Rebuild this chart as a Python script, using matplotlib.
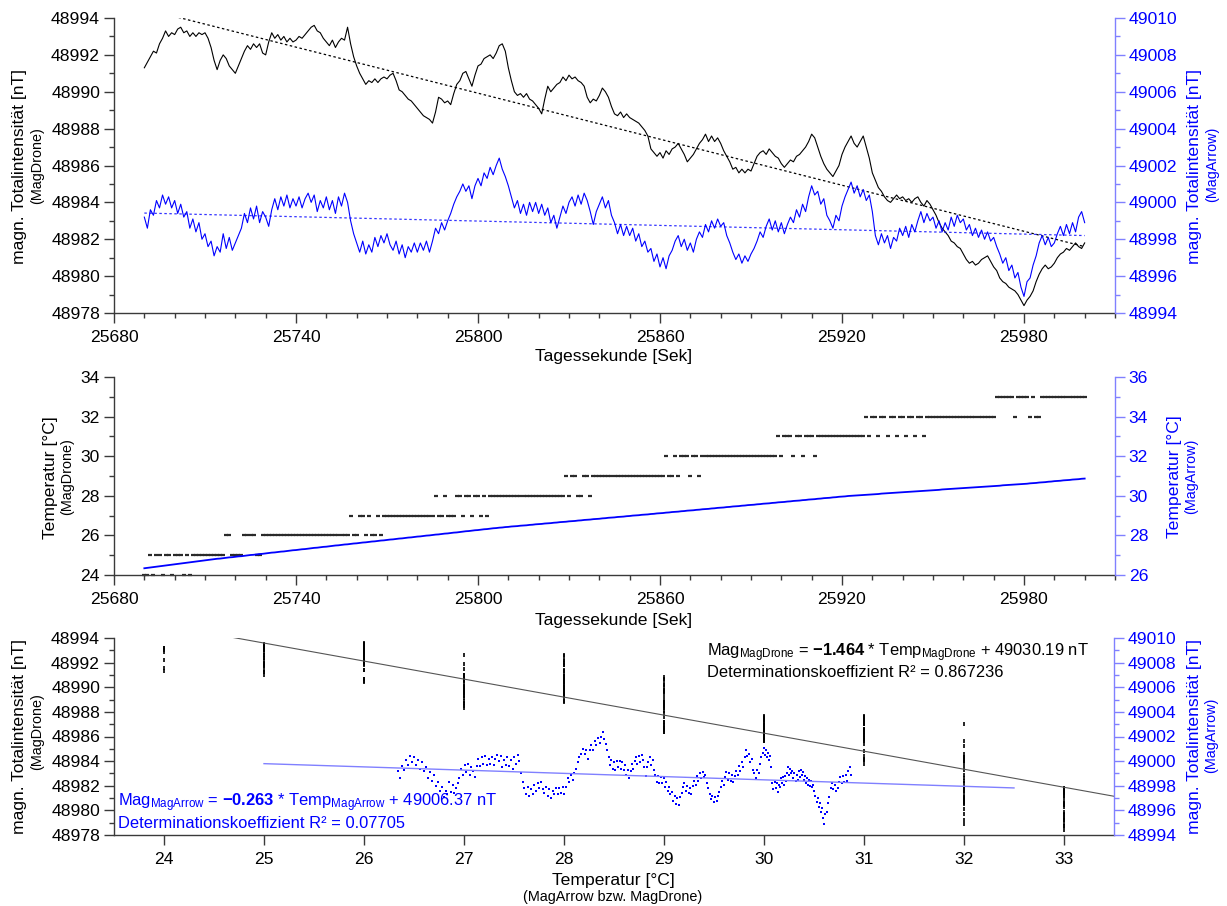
import numpy as np
import matplotlib
matplotlib.use("Agg")
import matplotlib.pyplot as plt
from matplotlib.ticker import MultipleLocator, FixedLocator

plt.rcParams['font.family'] = ['Liberation Sans', 'DejaVu Sans']
plt.rcParams['mathtext.fontset'] = 'custom'
plt.rcParams['mathtext.rm'] = 'Liberation Sans'
plt.rcParams['mathtext.bf'] = 'Liberation Sans:bold'
plt.rcParams['mathtext.it'] = 'Liberation Sans:italic'

# ---------------------------------------------------------------- data
first_second = 25690  # one sample per second

drone_mag = [
    48991.3, 48991.6, 48991.9, 48992.2, 48992.1, 48992.6, 48992.9, 48993.3, 48993.0, 48993.2,
    48993.1, 48993.4, 48993.5, 48993.2, 48993.3, 48993.0, 48993.2, 48993.0, 48993.2, 48993.1,
    48993.2, 48992.9, 48992.4, 48991.7, 48991.2, 48991.7, 48992.0, 48991.8, 48991.4, 48991.2,
    48991.0, 48991.4, 48991.8, 48992.2, 48992.5, 48992.3, 48992.6, 48992.4, 48992.6, 48992.1,
    48992.0, 48992.7, 48993.2, 48992.9, 48993.1, 48992.8, 48993.0, 48992.7, 48992.9, 48992.7,
    48992.8, 48993.0, 48992.9, 48993.1, 48993.3, 48993.5, 48993.6, 48993.3, 48993.2, 48992.9,
    48992.7, 48992.5, 48992.8, 48992.4, 48992.7, 48992.9, 48992.8, 48993.5, 48992.6, 48991.9,
    48991.4, 48991.0, 48990.7, 48990.4, 48990.6, 48990.5, 48990.7, 48990.5, 48990.7, 48990.8,
    48990.7, 48990.9, 48991.0, 48990.6, 48990.1, 48990.0, 48989.8, 48989.6, 48989.5, 48989.3,
    48989.1, 48988.9, 48988.7, 48988.6, 48988.5, 48988.3, 48988.9, 48989.7, 48989.6, 48989.4,
    48989.5, 48989.3, 48989.9, 48990.4, 48990.6, 48991.0, 48991.1, 48990.7, 48990.3, 48990.9,
    48991.4, 48991.5, 48991.8, 48991.9, 48992.0, 48991.8, 48992.1, 48992.5, 48992.6, 48992.2,
    48991.3, 48990.6, 48990.0, 48989.8, 48989.9, 48989.7, 48989.9, 48989.6, 48989.5, 48989.3,
    48989.1, 48988.8, 48989.6, 48990.3, 48990.0, 48990.2, 48990.4, 48990.5, 48990.8, 48990.6,
    48990.9, 48990.7, 48990.8, 48990.6, 48990.5, 48990.3, 48989.7, 48989.4, 48989.6, 48989.5,
    48989.8, 48990.2, 48990.0, 48989.7, 48989.2, 48988.8, 48988.7, 48988.9, 48988.6, 48988.8,
    48988.6, 48988.5, 48988.4, 48988.3, 48988.1, 48987.9, 48987.6, 48986.9, 48986.7, 48986.5,
    48986.7, 48986.4, 48986.8, 48986.6, 48986.9, 48987.0, 48987.2, 48986.9, 48986.6, 48986.2,
    48986.4, 48986.6, 48986.9, 48987.2, 48987.4, 48987.7, 48987.3, 48987.6, 48987.3, 48987.5,
    48987.2, 48986.8, 48986.5, 48986.2, 48985.8, 48985.9, 48985.6, 48985.8, 48985.6, 48985.8,
    48985.7, 48986.1, 48986.5, 48986.7, 48986.8, 48986.6, 48986.9, 48986.7, 48986.5, 48986.4,
    48986.1, 48985.9, 48986.1, 48986.3, 48986.2, 48986.5, 48986.6, 48986.8, 48987.0, 48987.3,
    48987.7, 48987.5, 48987.0, 48986.5, 48986.1, 48985.8, 48985.6, 48985.4, 48985.7, 48986.0,
    48986.6, 48987.0, 48987.3, 48987.6, 48987.2, 48987.0, 48987.3, 48987.6, 48987.0, 48986.4,
    48985.6, 48985.2, 48984.8, 48984.6, 48984.3, 48984.1, 48984.0, 48984.2, 48984.4, 48984.2,
    48984.3, 48984.1, 48984.2, 48984.0, 48984.2, 48984.3, 48984.0, 48983.8, 48984.1, 48983.9,
    48983.6, 48983.3, 48982.9, 48982.6, 48982.4, 48982.2, 48981.9, 48981.8, 48981.6, 48981.5,
    48981.2, 48980.9, 48980.7, 48980.8, 48980.6, 48980.7, 48980.9, 48981.0, 48981.1, 48980.8,
    48980.5, 48980.3, 48979.9, 48979.7, 48979.6, 48979.4, 48979.3, 48979.2, 48979.0, 48978.7,
    48978.4, 48978.7, 48978.9, 48979.2, 48979.7, 48980.1, 48980.4, 48980.6, 48980.4, 48980.5,
    48980.7, 48981.0, 48981.2, 48981.3, 48981.5, 48981.4, 48981.6, 48981.8, 48981.6, 48981.5,
    48981.8,
]

arrow_mag = [
    48999.2, 48998.6, 48999.6, 48999.3, 49000.1, 48999.7, 49000.4, 48999.9, 49000.3, 48999.7,
    49000.1, 48999.4, 48999.9, 48999.2, 48999.5, 48998.6, 48999.1, 48998.4, 48998.9, 48998.0,
    48998.3, 48997.6, 48997.9, 48997.1, 48997.6, 48997.3, 48998.3, 48997.5, 48998.1, 48997.4,
    48997.8, 48998.2, 48998.6, 48999.4, 48998.9, 48999.7, 48999.1, 48999.8, 48998.9, 48999.5,
    48999.2, 48998.7, 48999.6, 49000.2, 48999.6, 49000.3, 48999.8, 49000.4, 48999.7, 49000.2,
    48999.8, 49000.3, 48999.7, 49000.2, 49000.5, 49000.0, 49000.4, 48999.5, 49000.1, 48999.7,
    49000.3, 48999.6, 49000.1, 48999.4, 49000.3, 48999.8, 49000.5, 49000.0, 48999.0, 48998.3,
    48997.8, 48997.3, 48997.9, 48997.2, 48997.7, 48997.3, 48998.1, 48997.6, 48998.2, 48997.8,
    48998.3, 48997.7, 48997.4, 48997.9, 48997.2, 48997.7, 48997.0, 48997.6, 48997.3, 48997.8,
    48997.3, 48997.8, 48997.4, 48997.9, 48997.3, 48997.9, 48998.6, 48998.3, 48998.9, 48998.5,
    48999.0, 48999.4, 48999.9, 49000.3, 49000.6, 49001.0, 49000.6, 49000.9, 49000.2, 49000.9,
    49001.3, 49000.9, 49001.6, 49001.3, 49001.9, 49001.5, 49002.0, 49002.4, 49001.8, 49001.4,
    49000.9, 49000.3, 48999.7, 49000.1, 48999.4, 48999.9, 48999.3, 49000.0, 48999.5, 49000.0,
    48999.4, 48999.9, 48999.3, 48999.7, 48998.9, 48999.3, 48998.6, 48999.2, 48999.8, 48999.4,
    49000.0, 49000.3, 48999.8, 49000.4, 48999.9, 49000.5, 49000.1, 48999.5, 48998.8, 48999.5,
    48999.9, 49000.3, 48999.7, 49000.1, 48999.3, 48998.9, 48998.3, 48998.8, 48998.2, 48998.7,
    48998.2, 48998.6, 48997.9, 48998.3, 48997.6, 48997.9, 48997.3, 48997.5, 48996.8, 48997.2,
    48996.5, 48997.0, 48996.4, 48997.1, 48997.4, 48997.9, 48998.2, 48997.6, 48998.0, 48997.4,
    48997.8, 48997.3, 48998.0, 48998.4, 48998.1, 48998.8, 48998.4, 48999.0, 48998.6, 48999.1,
    48998.7, 48998.9, 48998.2, 48997.8, 48997.3, 48996.9, 48997.2, 48996.7, 48997.1, 48996.8,
    48997.2, 48997.5, 48997.9, 48998.4, 48998.1, 48998.7, 48999.1, 48998.5, 48999.0, 48998.4,
    48998.9, 48998.3, 48998.8, 48999.2, 48998.9, 48999.6, 48999.2, 48999.9, 48999.5, 49000.3,
    49000.9, 49000.4, 49000.6, 48999.9, 49000.2, 48999.3, 48999.0, 48998.6, 48999.3, 48999.0,
    48999.8, 49000.3, 49000.7, 49001.1, 49000.5, 49000.9, 49000.3, 49000.7, 49000.1, 49000.4,
    48999.5, 48998.2, 48997.7, 48998.3, 48997.8, 48998.2, 48997.5, 48998.1, 48997.9, 48998.6,
    48998.2, 48998.7, 48998.1, 48998.8, 48998.4, 48999.0, 48999.5, 48998.9, 48999.4, 48999.0,
    48999.2, 48998.6, 48999.0, 48998.4, 48998.9, 48998.5, 48999.2, 48998.7, 48999.3, 48998.9,
    48999.1, 48998.5, 48998.8, 48998.2, 48998.6, 48998.1, 48998.5, 48998.0, 48998.4, 48997.9,
    48998.1, 48997.6, 48997.2, 48996.7, 48997.0, 48996.3, 48996.6, 48995.9, 48996.2, 48995.4,
    48994.9, 48995.7, 48995.9, 48996.6, 48997.1, 48997.8, 48998.2, 48997.7, 48998.1, 48997.6,
    48997.8, 48998.3, 48998.7, 48998.2, 48998.8, 48998.3, 48998.9, 48998.4, 48999.2, 48999.5,
    48998.9,
]

drone_temp = [
    24, 24, 25, 24, 25, 25, 24, 25, 25, 24, 25, 25, 25, 24, 25, 24, 25, 25, 25, 25,
    25, 25, 25, 25, 25, 25, 25, 26, 26, 25, 25, 25, 25, 26, 26, 26, 26, 25, 25, 26,
    26, 26, 26, 26, 26, 26, 26, 26, 26, 26, 26, 26, 26, 26, 26, 26, 26, 26, 26, 26,
    26, 26, 26, 26, 26, 26, 26, 26, 27, 26, 26, 27, 27, 26, 27, 26, 26, 27, 26, 27,
    27, 27, 27, 27, 27, 27, 27, 27, 27, 27, 27, 27, 27, 27, 27, 27, 28, 27, 27, 28,
    27, 27, 27, 28, 28, 27, 28, 28, 27, 28, 28, 27, 28, 27, 28, 28, 28, 28, 28, 28,
    28, 28, 28, 28, 28, 28, 28, 28, 28, 28, 28, 28, 28, 28, 28, 28, 28, 28, 28, 29,
    28, 29, 29, 28, 28, 29, 29, 28, 29, 29, 29, 29, 29, 29, 29, 29, 29, 29, 29, 29,
    29, 29, 29, 29, 29, 29, 29, 29, 29, 29, 29, 29, 30, 29, 29, 30, 29, 30, 30, 30,
    29, 30, 30, 29, 30, 30, 30, 30, 30, 30, 30, 30, 30, 30, 30, 30, 30, 30, 30, 30,
    30, 30, 30, 30, 30, 30, 30, 30, 30, 31, 30, 31, 31, 31, 30, 31, 31, 30, 31, 31,
    31, 30, 31, 31, 31, 31, 31, 31, 31, 31, 31, 31, 31, 31, 31, 31, 31, 31, 32, 31,
    32, 32, 31, 32, 32, 31, 32, 32, 31, 32, 32, 31, 32, 32, 31, 32, 32, 31, 32, 32,
    32, 32, 32, 32, 32, 32, 32, 32, 32, 32, 32, 32, 32, 32, 32, 32, 32, 32, 32, 32,
    32, 33, 33, 33, 33, 33, 33, 32, 33, 33, 33, 33, 32, 33, 32, 32, 33, 33, 33, 33,
    33, 33, 33, 33, 33, 33, 33, 33, 33, 33, 33,
]

arrow_temp = [
    26.34, 26.36, 26.38, 26.40, 26.42, 26.44, 26.46, 26.48, 26.50, 26.52,
    26.54, 26.56, 26.58, 26.60, 26.62, 26.64, 26.66, 26.68, 26.70, 26.72,
    26.74, 26.76, 26.78, 26.80, 26.82, 26.83, 26.85, 26.87, 26.89, 26.90,
    26.92, 26.94, 26.95, 26.97, 26.99, 27.01, 27.02, 27.04, 27.06, 27.07,
    27.09, 27.11, 27.13, 27.14, 27.16, 27.18, 27.19, 27.21, 27.23, 27.25,
    27.26, 27.28, 27.30, 27.31, 27.33, 27.35, 27.37, 27.38, 27.40, 27.42,
    27.43, 27.45, 27.47, 27.49, 27.50, 27.52, 27.54, 27.55, 27.57, 27.59,
    27.60, 27.62, 27.64, 27.65, 27.67, 27.69, 27.70, 27.72, 27.74, 27.75,
    27.77, 27.79, 27.80, 27.82, 27.84, 27.85, 27.87, 27.89, 27.90, 27.92,
    27.94, 27.95, 27.97, 27.99, 28.00, 28.02, 28.04, 28.05, 28.07, 28.09,
    28.10, 28.12, 28.14, 28.15, 28.17, 28.19, 28.21, 28.22, 28.24, 28.26,
    28.27, 28.29, 28.31, 28.32, 28.34, 28.36, 28.37, 28.39, 28.40, 28.42,
    28.43, 28.45, 28.46, 28.47, 28.49, 28.50, 28.51, 28.53, 28.54, 28.56,
    28.57, 28.58, 28.60, 28.61, 28.62, 28.64, 28.65, 28.67, 28.68, 28.69,
    28.71, 28.72, 28.73, 28.75, 28.76, 28.78, 28.79, 28.80, 28.82, 28.83,
    28.84, 28.86, 28.87, 28.89, 28.90, 28.91, 28.93, 28.94, 28.95, 28.97,
    28.98, 29.00, 29.01, 29.02, 29.04, 29.05, 29.06, 29.08, 29.09, 29.11,
    29.12, 29.13, 29.15, 29.16, 29.18, 29.19, 29.20, 29.22, 29.23, 29.25,
    29.26, 29.27, 29.29, 29.30, 29.32, 29.33, 29.34, 29.36, 29.37, 29.39,
    29.40, 29.41, 29.43, 29.44, 29.46, 29.47, 29.48, 29.50, 29.51, 29.53,
    29.54, 29.55, 29.57, 29.58, 29.60, 29.61, 29.62, 29.64, 29.65, 29.67,
    29.68, 29.69, 29.71, 29.72, 29.74, 29.75, 29.76, 29.78, 29.79, 29.81,
    29.82, 29.83, 29.85, 29.86, 29.88, 29.89, 29.90, 29.92, 29.93, 29.95,
    29.96, 29.97, 29.99, 30.00, 30.01, 30.02, 30.03, 30.04, 30.05, 30.06,
    30.07, 30.08, 30.09, 30.11, 30.12, 30.13, 30.14, 30.15, 30.16, 30.17,
    30.18, 30.19, 30.20, 30.21, 30.22, 30.23, 30.24, 30.25, 30.26, 30.27,
    30.28, 30.29, 30.30, 30.32, 30.33, 30.34, 30.35, 30.36, 30.37, 30.38,
    30.39, 30.40, 30.41, 30.42, 30.43, 30.44, 30.45, 30.46, 30.47, 30.48,
    30.49, 30.50, 30.51, 30.53, 30.54, 30.55, 30.56, 30.57, 30.58, 30.59,
    30.60, 30.61, 30.63, 30.64, 30.65, 30.67, 30.68, 30.69, 30.71, 30.72,
    30.74, 30.75, 30.76, 30.78, 30.79, 30.80, 30.82, 30.83, 30.84, 30.86,
    30.87,
]

# linear trends over time (start / end of the record)
trend_seconds = [25690, 26000]
drone_trend = [48994.5, 48981.6]
arrow_trend = [48999.42, 48998.2]

# regressions of magnetic intensity on temperature
drone_slope, drone_icpt, drone_r2 = -1.464, 49030.19, "0.867236"
arrow_slope, arrow_icpt, arrow_r2 = -0.263, 49006.37, "0.07705"
drone_fit_range = [23.5, 33.5]
arrow_fit_range = [25.0, 32.5]

seconds = np.arange(first_second, first_second + len(drone_mag))

# ---------------------------------------------------------------- layout
W, H = 1227, 906
fig = plt.figure(figsize=(W / 100, H / 100), dpi=100)

BLUE = '#0000ff'
LBLUE = '#8080ff'
DARK = '#3a3a3a'
FS = 12.6
FS_SUB = 10.4
FS_NOTE = 11.9


def px_box(left, top, right, bottom):
    return [left / W, 1 - bottom / H, (right - left) / W, (bottom - top) / H]


def style_pair(ax, axr):
    for a in (ax, axr):
        a.spines['top'].set_visible(False)
        a.set_facecolor('none')
    ax.spines['right'].set_visible(False)
    axr.spines['left'].set_visible(False)
    axr.spines['bottom'].set_visible(False)
    ax.spines['left'].set_color(DARK)
    ax.spines['bottom'].set_color(DARK)
    axr.spines['right'].set_color(LBLUE)
    for s in ('left', 'bottom'):
        ax.spines[s].set_linewidth(1.0)
    axr.spines['right'].set_linewidth(1.0)
    ax.tick_params(which='both', direction='out', color=DARK, labelcolor='black',
                   labelsize=FS, width=1.0)
    ax.tick_params(which='major', length=7)
    ax.tick_params(which='minor', length=3.5)
    ax.tick_params(axis='y', pad=3)
    ax.tick_params(axis='x', pad=5)
    axr.tick_params(axis='y', which='both', direction='out', color=LBLUE,
                    labelcolor=BLUE, labelsize=FS, width=1.0, pad=3)
    axr.tick_params(axis='y', which='major', length=7)
    axr.tick_params(axis='y', which='minor', length=3.5)
    ax.ticklabel_format(useOffset=False, style='plain')
    axr.ticklabel_format(axis='y', useOffset=False, style='plain')


def ylab(x, y, main, sub, color):
    fig.text(x / W, 1 - y[0] / H, main, rotation=90, ha='center', va='center',
             fontsize=FS, color=color)
    fig.text(x / W + 17 / W, 1 - y[1] / H, sub, rotation=90, ha='center', va='center',
             fontsize=FS_SUB, color=color)


# ---------------------------------------------------------------- panel 1: intensity over time
ax1 = fig.add_axes(px_box(114, 18, 1115, 313))
ax1r = ax1.twinx()
style_pair(ax1, ax1r)
ax1.plot(seconds, drone_mag, color='black', lw=0.8)
ax1.plot(trend_seconds, drone_trend, color='black', lw=0.9, ls=(0, (2, 2)))
ax1r.plot(seconds, arrow_mag, color=BLUE, lw=0.8)
ax1r.plot(trend_seconds, arrow_trend, color=BLUE, lw=0.9, ls=(0, (2, 2)), alpha=0.8)
ax1.set_xlim(25680, 26010)
ax1.set_ylim(48978, 48994)
ax1r.set_ylim(48994, 49010)
ax1.xaxis.set_major_locator(FixedLocator(np.arange(25680, 26000, 60)))
ax1.xaxis.set_minor_locator(MultipleLocator(10))
for a in (ax1, ax1r):
    a.yaxis.set_major_locator(MultipleLocator(2))
    a.yaxis.set_minor_locator(MultipleLocator(1))

fig.text(614 / W, 1 - 356 / H, 'Tagessekunde [Sek]', ha='center', va='center', fontsize=FS)
ylab(20, (167, 166), 'magn. Totalintensität [nT]', '(MagDrone)', 'black')
ylab(1195, (167, 164), 'magn. Totalintensität [nT]', '(MagArrow)', BLUE)

# ---------------------------------------------------------------- panel 2: temperature over time
ax2 = fig.add_axes(px_box(114, 377, 1115, 575))
ax2r = ax2.twinx()
style_pair(ax2, ax2r)
ax2.plot(seconds, drone_temp, ls='none', marker='_', ms=2.4, mew=1.6,
         color='#2a2a2a', clip_on=False)
ax2r.plot(seconds, arrow_temp, color=BLUE, lw=1.3)
ax2.set_xlim(25680, 26010)
ax2.set_ylim(24, 34)
ax2r.set_ylim(26, 36)
ax2.xaxis.set_major_locator(FixedLocator(np.arange(25680, 26000, 60)))
ax2.xaxis.set_minor_locator(MultipleLocator(10))
for a in (ax2, ax2r):
    a.yaxis.set_major_locator(MultipleLocator(2))
    a.yaxis.set_minor_locator(MultipleLocator(1))

fig.text(614 / W, 1 - 620 / H, 'Tagessekunde [Sek]', ha='center', va='center', fontsize=FS)
ylab(50, (478, 477), 'Temperatur [°C]', '(MagDrone)', 'black')
ylab(1174, (477, 476), 'Temperatur [°C]', '(MagArrow)', BLUE)

# ---------------------------------------------------------------- panel 3: intensity vs temperature
ax3 = fig.add_axes(px_box(114, 638, 1114, 835))
ax3r = ax3.twinx()
style_pair(ax3, ax3r)
ax3.plot(drone_temp, drone_mag, ls='none', marker='|', ms=3, mew=1.2, color='black')
fit_x = np.array(drone_fit_range)
ax3.plot(fit_x, drone_slope * fit_x + drone_icpt, color='#555555', lw=0.8)
ax3r.plot(arrow_temp, arrow_mag, ls='none', marker='s', ms=1.7, mew=0, color=BLUE)
fit_xa = np.array(arrow_fit_range)
ax3r.plot(fit_xa, arrow_slope * fit_xa + arrow_icpt, color=LBLUE, lw=1.0)
ax3.set_xlim(23.5, 33.5)
ax3.set_ylim(48978, 48994)
ax3r.set_ylim(48994, 49010)
ax3.xaxis.set_major_locator(FixedLocator(np.arange(24, 34, 1)))
for a in (ax3, ax3r):
    a.yaxis.set_major_locator(MultipleLocator(2))
    a.yaxis.set_minor_locator(MultipleLocator(1))

fig.text(613 / W, 1 - 880 / H, 'Temperatur [°C]', ha='center', va='center', fontsize=FS)
fig.text(613 / W, 1 - 897 / H, '(MagArrow bzw. MagDrone)', ha='center', va='center',
         fontsize=FS_SUB)
ylab(20, (737, 732), 'magn. Totalintensität [nT]', '(MagDrone)', 'black')
ylab(1194, (737, 735), 'magn. Totalintensität [nT]', '(MagArrow)', BLUE)

fig.text(707 / W, 1 - 656 / H,
         r'Mag$_{\mathrm{MagDrone}}$ = $\mathbf{%.3f}$ * Temp$_{\mathrm{MagDrone}}$ + %.2f nT'
         % (drone_slope, drone_icpt), ha='left', va='baseline', fontsize=FS_NOTE, color='black')
fig.text(707 / W, 1 - 677 / H, 'Determinationskoeffizient R² = ' + drone_r2,
         ha='left', va='baseline', fontsize=FS_NOTE, color='black')
fig.text(118 / W, 1 - 806 / H,
         r'Mag$_{\mathrm{MagArrow}}$ = $\mathbf{%.3f}$ * Temp$_{\mathrm{MagArrow}}$ + %.2f nT'
         % (arrow_slope, arrow_icpt), ha='left', va='baseline', fontsize=FS_NOTE, color=BLUE)
fig.text(118 / W, 1 - 828 / H, 'Determinationskoeffizient R² = ' + arrow_r2,
         ha='left', va='baseline', fontsize=FS_NOTE, color=BLUE)

fig.savefig('out.png', dpi=100)
